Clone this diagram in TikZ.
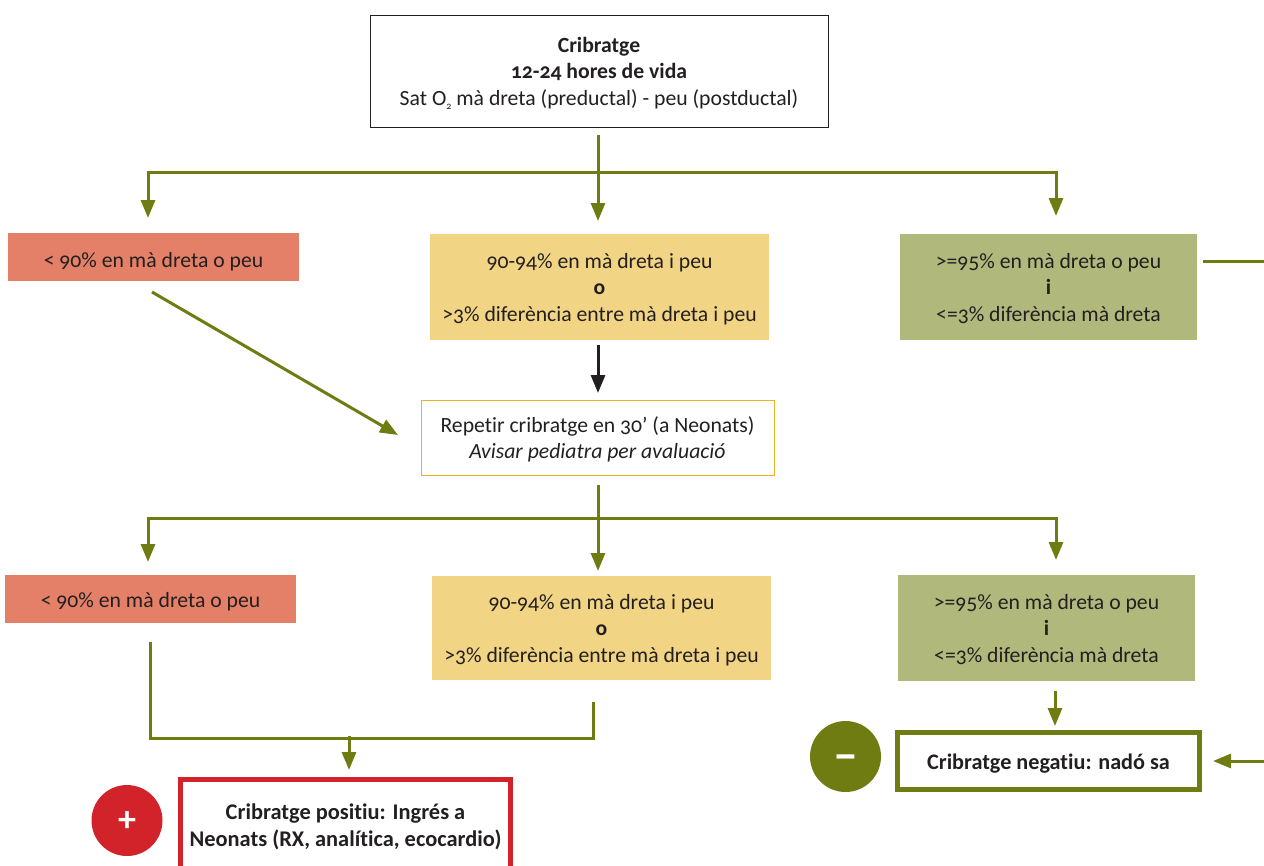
\documentclass[tikz,border=0pt]{standalone}
\usepackage{fontspec}
\usetikzlibrary{arrows.meta}
\setmainfont[Numbers=OldStyle,Ligatures=CommonOff]{Carlito}
\definecolor{olive}{HTML}{6F7C12}
\definecolor{salmon}{HTML}{E58068}
\definecolor{sand}{HTML}{F1D484}
\definecolor{sage}{HTML}{B0B97B}
\definecolor{crimson}{HTML}{D2232A}
\definecolor{gold}{HTML}{E8B31E}
\definecolor{ink}{HTML}{231F20}
\newcommand\droptext[2]{\raisebox{-#1}[\height][\depth]{\begin{tabular}{@{}c@{}}#2\end{tabular}}}
\tikzset{
  x=1pt,y=-1pt,
  boxbase/.style={inner sep=0pt,outer sep=0pt,text=ink,font=\fontsize{21.7}{26.5}\selectfont},
  fillbox/.style={boxbase,fill=#1},
  conn/.style={olive,line width=3pt},
  arrowconn/.style={conn,-{Triangle[length=18pt,width=14pt]}},
  blackconn/.style={ink,line width=3pt,-{Triangle[length=18pt,width=14pt]}},
  badge/.style={circle,minimum size=71pt,inner sep=0pt,outer sep=0pt,text=white,font=\bfseries\fontsize{36}{36}\selectfont},
}
\begin{document}
\begin{tikzpicture}
\clip (0,0) rectangle (1264,865);
% boxes
\node[boxbase,draw=ink,line width=1pt,minimum width=458pt,minimum height=112pt] (top) at (599,71)
 {\droptext{2.6pt}{\textbf{Cribratge}\\\textbf{12-24 hores de vida}\\Sat O\raisebox{-4pt}{\fontsize{10}{10}\selectfont 2} mà dreta (preductal) - peu (postductal)}};
\node[fillbox=salmon,minimum width=291pt,minimum height=48pt] (r1) at (153.5,257) {\droptext{5pt}{< 90\% en mà dreta o peu}};
\node[fillbox=sand,minimum width=339pt,minimum height=106pt] (y1) at (599.5,287)
 {\droptext{2.6pt}{90-94\% en mà dreta i peu\\\textbf{o}\\>3\% diferència entre mà dreta i peu}};
\node[fillbox=sage,minimum width=297pt,minimum height=106pt] (g1) at (1048.5,287)
 {\droptext{2.6pt}{>=95\% en mà dreta o peu\\\textbf{i}\\<=3\% diferència mà dreta}};
\node[boxbase,draw=gold,line width=1pt,minimum width=353pt,minimum height=75pt] (rep) at (597.5,437.5)
 {\droptext{2.6pt}{Repetir cribratge en 30’ (a Neonats)\\\textit{Avisar pediatra per avaluació}}};
\node[fillbox=salmon,minimum width=291pt,minimum height=48pt] (r2) at (150.5,599) {\droptext{3pt}{< 90\% en mà dreta o peu}};
\node[fillbox=sand,minimum width=339pt,minimum height=104pt] (y2) at (601.5,628)
 {\droptext{2.6pt}{90-94\% en mà dreta i peu\\\textbf{o}\\>3\% diferència entre mà dreta i peu}};
\node[fillbox=sage,minimum width=297pt,minimum height=106pt] (g2) at (1046.5,628)
 {\droptext{2.6pt}{>=95\% en mà dreta o peu\\\textbf{i}\\<=3\% diferència mà dreta}};
\node[boxbase,draw=olive,line width=5pt,minimum width=302pt,minimum height=57pt,font=\fontsize{22.2}{26.5}\selectfont] (neg) at (1048.5,761)
 {\droptext{3pt}{\textbf{Cribratge negatiu: nadó sa}}};
\node[boxbase,draw=crimson,line width=5pt,minimum width=330pt,minimum height=91pt,font=\fontsize{22.4}{26.5}\selectfont] (pos) at (345.5,825)
 {\droptext{2.5pt}{\textbf{Cribratge positiu: Ingrés a}\\\textbf{Neonats (RX, analítica, ecocardio)}}};
\node[badge,fill=crimson] (plus) at (127,820.5) {\raisebox{-1pt}[\height][\depth]{+}};
\node[badge,fill=olive,font=\bfseries\fontsize{46}{46}\selectfont] (minus) at (845.5,756.5) {\raisebox{-7pt}[\height][\depth]{−}};
% named free ends
\coordinate (t0) at (598,135);
\coordinate (tl) at (148,172.5);
\coordinate (tr) at (1056,172.5);
\coordinate (r1in) at (148,218);
\coordinate (y1in) at (598,221);
\coordinate (g1in) at (1056,216);
\coordinate (r1out) at (152,292);
\coordinate (repin) at (398,435);
\coordinate (y1out) at (598,345);
\coordinate (reptop) at (598,393);
\coordinate (g1out) at (1203,261);
\coordinate (edgeR) at (1264,261);
\coordinate (edgeR2) at (1264,761);
\coordinate (negin) at (1213,761);
\coordinate (rep0) at (598,485);
\coordinate (bl) at (148,518);
\coordinate (br) at (1056,518);
\coordinate (r2in) at (148,562);
\coordinate (y2in) at (598,571);
\coordinate (g2in) at (1056,560);
\coordinate (r2out) at (150,642);
\coordinate (c1) at (150,738);
\coordinate (c2) at (593,738);
\coordinate (y2out) at (593,702);
\coordinate (cj) at (349,736);
\coordinate (posin) at (349,770);
\coordinate (g2out) at (1055,691);
\coordinate (negtop) at (1055,726);
% connectors
\draw[conn,line cap=rect] (tr) -- (tl);
\draw[arrowconn] (t0) -- (y1in);
\draw[arrowconn] (tl) -- (r1in);
\draw[arrowconn] (tr) -- (g1in);
\draw[arrowconn] (r1out) -- (repin);
\draw[blackconn] (y1out) -- (reptop);
\draw[conn] (g1out) -- (edgeR);
\draw[conn,line cap=rect] (br) -- (bl);
\draw[arrowconn] (rep0) -- (y2in);
\draw[arrowconn] (bl) -- (r2in);
\draw[arrowconn] (br) -- (g2in);
\draw[conn] (r2out) -- (c1) -- (c2) -- (y2out);
\draw[arrowconn] (cj) -- (posin);
\draw[arrowconn] (g2out) -- (negtop);
\draw[arrowconn] (edgeR2) -- (negin);
\end{tikzpicture}
\end{document}
